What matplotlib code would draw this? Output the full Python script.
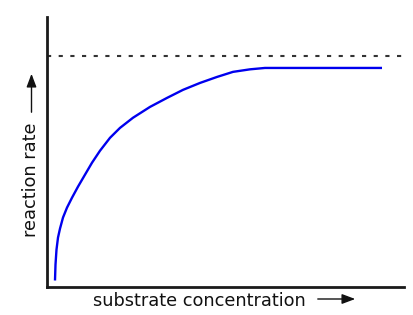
import matplotlib
matplotlib.use("Agg")
import matplotlib.pyplot as plt
from matplotlib.patches import FancyArrowPatch

# Substrate concentration (arbitrary units) and measured reaction rate
substrate = [0.224, 0.238, 0.266, 0.308, 0.364, 0.448, 0.560, 0.700, 0.868,
             1.064, 1.261, 1.485, 1.765, 2.045, 2.409, 2.885, 3.361, 3.810,
             4.286, 4.762, 5.210, 5.686, 6.106, 9.384]
rate = [0.026, 0.095, 0.160, 0.212, 0.251, 0.299, 0.342, 0.385, 0.433,
        0.485, 0.537, 0.589, 0.645, 0.688, 0.732, 0.779, 0.818, 0.853,
        0.883, 0.909, 0.931, 0.942, 0.948, 0.948]
v_max = 1.0

x_label = "substrate concentration"
y_label = "reaction rate"

W, H = 414, 315
fig = plt.figure(figsize=(W / 100, H / 100), dpi=100)
left, right, top, bottom = 47, 404, 17, 286.5
ax = fig.add_axes([left / W, 1 - bottom / H, (right - left) / W, (bottom - top) / H])

ax.plot(substrate, rate, color="#0000ee", lw=1.7, solid_joinstyle="round",
        solid_capstyle="butt")
ax.axhline(v_max, color="#333333", lw=1.5, dashes=(2.0, 3.6))

ax.set_xlim(0, 10)
ax.set_ylim(0, 1.169)
ax.set_xticks([])
ax.set_yticks([])
for side in ("top", "right"):
    ax.spines[side].set_visible(False)
for side in ("left", "bottom"):
    ax.spines[side].set_linewidth(2.0)
    ax.spines[side].set_color("#1a1a1a")


def fx(px):
    return px / W


def fy(py):
    return 1 - py / H


# Axis captions with their direction arrows
fig.text(fx(93), fy(306), x_label, fontsize=12.8, family="DejaVu Sans",
         ha="left", va="baseline", color="#111111")
fig.text(fx(36), fy(237), y_label, fontsize=12.8, family="DejaVu Sans",
         rotation=90, ha="left", va="baseline", color="#111111",
         rotation_mode="anchor")

style = "-|>,head_length=0.8,head_width=0.3"
fig.add_artist(FancyArrowPatch(
    (fx(315), fy(299)), (fx(358), fy(299)), transform=fig.transFigure,
    arrowstyle=style, color="#111111", lw=1.0, mutation_scale=10))
fig.add_artist(FancyArrowPatch(
    (fx(31.5), fy(115)), (fx(31.5), fy(71)), transform=fig.transFigure,
    arrowstyle=style, color="#111111", lw=1.0, mutation_scale=10))

fig.savefig("out.png", dpi=100)
